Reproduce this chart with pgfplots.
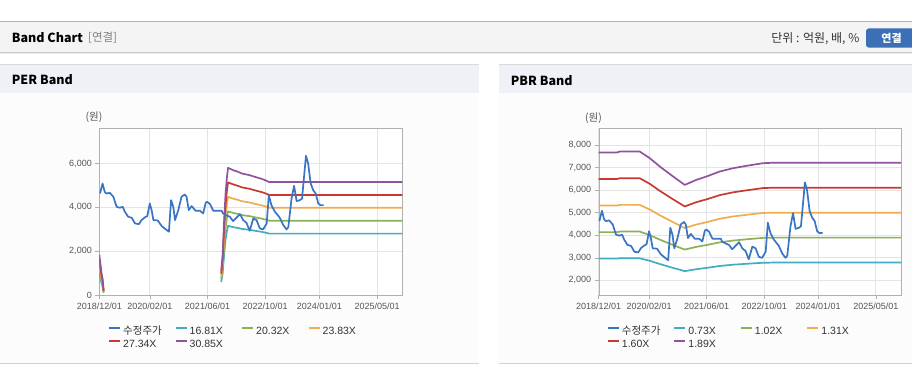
\documentclass[border=0pt]{standalone}
\usepackage{pgfplots}
\pgfplotsset{compat=1.18}
\usepackage{pgfplotstable}
\usepackage{fontspec}
\setmainfont{Liberation Sans}
\newfontfamily\kr{Noto Sans CJK KR}
\definecolor{cprice}{RGB}{58,117,196}
\definecolor{ccyan}{RGB}{65,174,192}
\definecolor{cgreen}{RGB}{141,178,85}
\definecolor{corange}{RGB}{240,173,78}
\definecolor{cred}{RGB}{200,58,48}
\definecolor{cpurple}{RGB}{142,85,156}
\definecolor{axisgray}{RGB}{176,176,176}
\definecolor{gridgray}{RGB}{228,228,228}
\definecolor{labelgray}{RGB}{85,85,85}
\definecolor{textdark}{RGB}{51,51,51}
\definecolor{hdrbg}{RGB}{244,244,244}
\definecolor{panelhdr}{RGB}{238,241,246}
\definecolor{panelbg}{RGB}{252,252,252}
\definecolor{btnblue}{RGB}{59,111,182}

\pgfplotstableread{
m p
0.2 4634
0.9 5089
1.5 4710
2.0 4630
2.9 4665
3.9 4483
4.8 4029
5.7 3983
6.5 4029
7.1 3800
8.0 3574
9.0 3528
9.9 3271
11.0 3240
11.7 3422
12.6 3543
13.3 3604
14.0 4180
14.5 3877
15.0 3422
16.2 3407
17.3 3150
18.7 2968
19.3 2893
19.9 4332
20.5 4029
21.0 3422
21.9 3877
22.8 4484
23.7 4590
24.2 4480
24.8 3878
25.6 4060
26.7 3848
27.9 3848
28.8 3727
29.5 4212
29.9 4255
30.7 4151
31.6 3848
33.9 3848
34.3 3727
35.1 3650
36.2 3574
37.1 3377
38.0 3528
39.0 3695
39.9 3422
40.8 3301
41.7 2938
42.7 3498
43.6 3422
44.5 3044
45.4 2998
46.4 3271
47.0 4559
47.7 4104
48.7 3801
50.0 3543
51.0 3195
51.9 2998
52.4 3100
53.3 4407
54.0 4983
54.7 4287
55.6 4331
56.2 4400
57.3 6348
57.9 5998
58.6 5089
59.3 4786
60.0 4634
60.7 4180
61.3 4104
62.2 4104
}\price

\pgfplotstableread{
m a b c d e
0.0 1015 1227 1439 1651 1863
0.3 790 955 1120 1285 1450
0.6 555 671 786 902 1018
0.9 420 508 596 684 771
1.2 118 142 167 191 216
10 nan nan nan nan nan
33.8 605 732 858 984 1111
34.2 1009 1219 1430 1640 1851
34.6 1849 2235 2621 3007 3394
35.0 2522 3048 3575 4101 4628
35.4 2942 3556 4170 4785 5399
35.7 3160 3820 4480 5140 5800
37.1 3103 3751 4399 5047 5695
38.5 3061 3700 4339 4979 5618
39.5 3021 3651 4282 4913 5544
41.7 2979 3601 4223 4845 5466
43.1 2938 3552 4165 4779 5393
45.0 2888 3491 4094 4697 5300
46.4 2839 3432 4025 4618 5211
47.1 2807 3393 3980 4566 5152
84 2807 3393 3980 4566 5152
}\per

\pgfplotstableread{
m a b c d e
0 2964 4141 5319 6496 7673
5.0 2964 4141 5319 6496 7673
5.9 2981 4166 5350 6534 7719
11.4 2981 4166 5350 6534 7719
14.2 2867 4006 5144 6283 7422
17.0 2724 3806 4888 5970 7052
20.7 2552 3566 4580 5594 6607
23.9 2409 3366 4323 5280 6237
27.1 2495 3486 4478 5469 6460
29.9 2552 3566 4580 5594 6607
33.6 2638 3686 4734 5782 6830
37.3 2695 3766 4837 5907 6978
41.0 2735 3822 4909 5995 7082
45.6 2781 3886 4991 6096 7201
48.4 2789 3896 5004 6112 7220
84 2789 3896 5004 6112 7220
}\pbr

\pgfplotsset{
 band/.style={
  scale only axis, anchor=south west,
  xmin=0, xmax=84,
  axis background/.style={fill=white},
  axis line style={axisgray},
  tick style={axisgray, line width=0.6pt},
  tick align=outside, major tick length=4pt,
  xtick pos=bottom, ytick pos=left,
  grid=major, major grid style={gridgray, line width=0.7pt},
  xtick={0,14,30,46,61,77},
  xticklabels={2018/12/01,2020/02/01,2021/06/01,2022/10/01,2024/01/01,2025/05/01},
  ticklabel style={font=\fontsize{9}{10}\selectfont, text=labelgray},
  unbounded coords=jump,
  every axis plot/.append style={line width=1.7pt, line join=round, no markers},
  legend columns=4,
  legend cell align=left,
  legend image code/.code={\draw[#1, line width=2pt] (0pt,3.3pt) -- (11pt,3.3pt);},
  legend style={draw=none, fill=none, anchor=north west, inner sep=0pt,
     font=\fontsize{10.5}{12}\selectfont, text=textdark,
     nodes={inner sep=0pt, text height=8pt, text depth=2.5pt},
     row sep=2.5pt,
     /tikz/every odd column/.append style={column sep=2pt}},
 }
}

\newcommand{\lbox}[1]{\makebox[51.5pt][l]{#1}}

\begin{document}
\begin{tikzpicture}[x=1pt,y=1pt]
\path[use as bounding box] (0,0) rectangle (912,364);
\fill[white] (0,0) rectangle (912,364);
% top header bar
\fill[hdrbg] (0,311.5) rectangle (912,341.5);
\draw[black!30, line width=1pt] (0,342) -- (912,342);
\fill[black!20] (0,310.5) rectangle (912,311.5);
\fill[black!8] (0,309.5) rectangle (912,310.5);
\node[anchor=west, inner sep=0pt, font=\kr\bfseries\fontsize{12.5}{14}\selectfont] at (11.7,326) {Band Chart};
\node[anchor=west, inner sep=0pt, text=black!50, font=\kr\fontsize{11.5}{14}\selectfont] at (88,326) {[연결]};
\node[anchor=east, inner sep=0pt, text=textdark, font=\kr\fontsize{12}{14}\selectfont] at (859.5,325.5) {단위 : 억원, 배, \%};
\fill[btnblue, rounded corners=3pt] (866,316.3) rectangle (916,335.7);
\node[text=white, inner sep=0pt, font=\kr\bfseries\fontsize{11}{14}\selectfont] at (891.5,326) {연결};
% panels
\foreach \xa/\xb in {0/479, 499/912}{
  \fill[panelhdr] (\xa,271) rectangle (\xb,299.5);
  \draw[black!15] (\xa,300) -- (\xb,300);
  \fill[panelbg] (\xa,1.5) rectangle (\xb,271);
  \draw[black!18] (\xa,1.2) -- (\xb,1.2);
}
\node[anchor=west, inner sep=0pt, font=\kr\bfseries\fontsize{12.5}{14}\selectfont] at (11.7,284) {PER Band};
\node[anchor=west, inner sep=0pt, font=\kr\bfseries\fontsize{12.5}{14}\selectfont] at (510.7,283.5) {PBR Band};
\node[inner sep=0pt, text=labelgray, font=\kr\fontsize{10.5}{12}\selectfont] at (94,247) {(원)};
\node[inner sep=0pt, text=labelgray, font=\kr\fontsize{10.5}{12}\selectfont] at (593.5,246) {(원)};

% PER axis
\begin{axis}[band, at={(99.3pt,68.7pt)}, width=303pt, height=167pt,
  ymin=0, ymax=7600, ytick={0,2000,4000,6000}, yticklabels={0,{2,000},{4,000},{6,000}},
  legend style={at={(0.0287,-0.1856)}}]
\addlegendimage{cprice}\addlegendentry{\lbox{\kr 수정주가}}
\addplot[ccyan] table[x=m,y=a]{\per}; \addlegendentry{\lbox{16.81X}}
\addplot[cgreen] table[x=m,y=b]{\per}; \addlegendentry{\lbox{20.32X}}
\addplot[corange] table[x=m,y=c]{\per}; \addlegendentry{\lbox{23.83X}}
\addplot[cred] table[x=m,y=d]{\per}; \addlegendentry{\lbox{27.34X}}
\addplot[cpurple] table[x=m,y=e]{\per}; \addlegendentry{\lbox{30.85X}}
\addplot[cprice, forget plot] table[x=m,y=p]{\price};
\end{axis}

% PBR axis
\begin{axis}[band, at={(598.7pt,69pt)}, width=302.3pt, height=166.7pt,
  ymin=1350, ymax=8750, ytick={2000,3000,4000,5000,6000,7000,8000},
  yticklabels={{2,000},{3,000},{4,000},{5,000},{6,000},{7,000},{8,000}},
  legend style={at={(0.0265,-0.1878)}}]
\addlegendimage{cprice}\addlegendentry{\lbox{\kr 수정주가}}
\addplot[ccyan] table[x=m,y=a]{\pbr}; \addlegendentry{\lbox{0.73X}}
\addplot[cgreen] table[x=m,y=b]{\pbr}; \addlegendentry{\lbox{1.02X}}
\addplot[corange] table[x=m,y=c]{\pbr}; \addlegendentry{\lbox{1.31X}}
\addplot[cred] table[x=m,y=d]{\pbr}; \addlegendentry{\lbox{1.60X}}
\addplot[cpurple] table[x=m,y=e]{\pbr}; \addlegendentry{\lbox{1.89X}}
\addplot[cprice, forget plot] table[x=m,y=p]{\price};
\end{axis}
\end{tikzpicture}
\end{document}
